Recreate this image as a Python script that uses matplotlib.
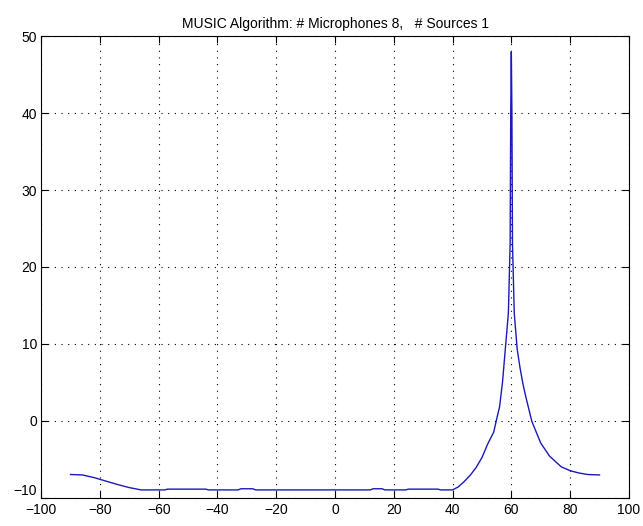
import matplotlib.pyplot as plt

# angle (deg) and MUSIC spectrum (dB)
angles = [-90, -86, -82, -78, -74, -70, -66, -58, -57, -44, -43, -33, -32, -28, -27,
          12, 13, 16, 17, 24, 25, 35, 36, 40, 42, 44, 46, 48, 50, 52, 54, 55, 56, 57,
          58, 59, 59.6, 59.8, 60, 60.2, 60.4, 61, 62, 63, 64, 65, 67, 70, 73, 77,
          80, 83, 86, 90]
spectrum = [-7.0, -7.05, -7.4, -7.85, -8.3, -8.7, -9.0, -9.0, -8.9, -8.9, -9.0, -9.0,
            -8.85, -8.85, -9.0, -9.0, -8.85, -8.85, -9.0, -9.0, -8.9, -8.9, -9.0, -9.0,
            -8.6, -7.9, -7.1, -6.1, -4.8, -3.0, -1.5, 0.2, 1.8, 5.0, 9.5, 14.0, 23.0,
            40.0, 48.0, 40.0, 23.0, 14.0, 9.3, 6.8, 4.7, 3.0, -0.1, -2.9, -4.6, -6.0,
            -6.5, -6.8, -7.0, -7.05]

xticks = list(range(-100, 101, 20))
yticks = list(range(-10, 51, 10))

plt.rcParams['font.family'] = ['Liberation Sans', 'DejaVu Sans']

fig = plt.figure(figsize=(6.43, 5.26), dpi=100)
ax = fig.add_axes([0.064, 0.054, 0.914, 0.877])
ax.plot(angles, spectrum, color='#1a1ab8', linewidth=1.0)

ax.set_xlim(-100, 100)
ax.set_ylim(-10, 50)
ax.set_xticks(xticks)
ax.set_yticks(yticks)
ax.tick_params(direction='in', length=5, width=0.8, top=True, right=True,
               labelsize=10)
ax.tick_params(axis='x', pad=4)
ax.tick_params(axis='y', pad=3)
ax.grid(True, linestyle=(0, (1, 5)), color='black', linewidth=0.8)
for s in ax.spines.values():
    s.set_linewidth(0.8)
# nudge the bottom y label up slightly so it clears "-100"
ax.get_yticklabels()[0].set_verticalalignment('bottom')

ax.set_title("MUSIC Algorithm: # Microphones 8,   # Sources 1", fontsize=10, pad=6)

fig.savefig("out.png", dpi=100, facecolor='white')
